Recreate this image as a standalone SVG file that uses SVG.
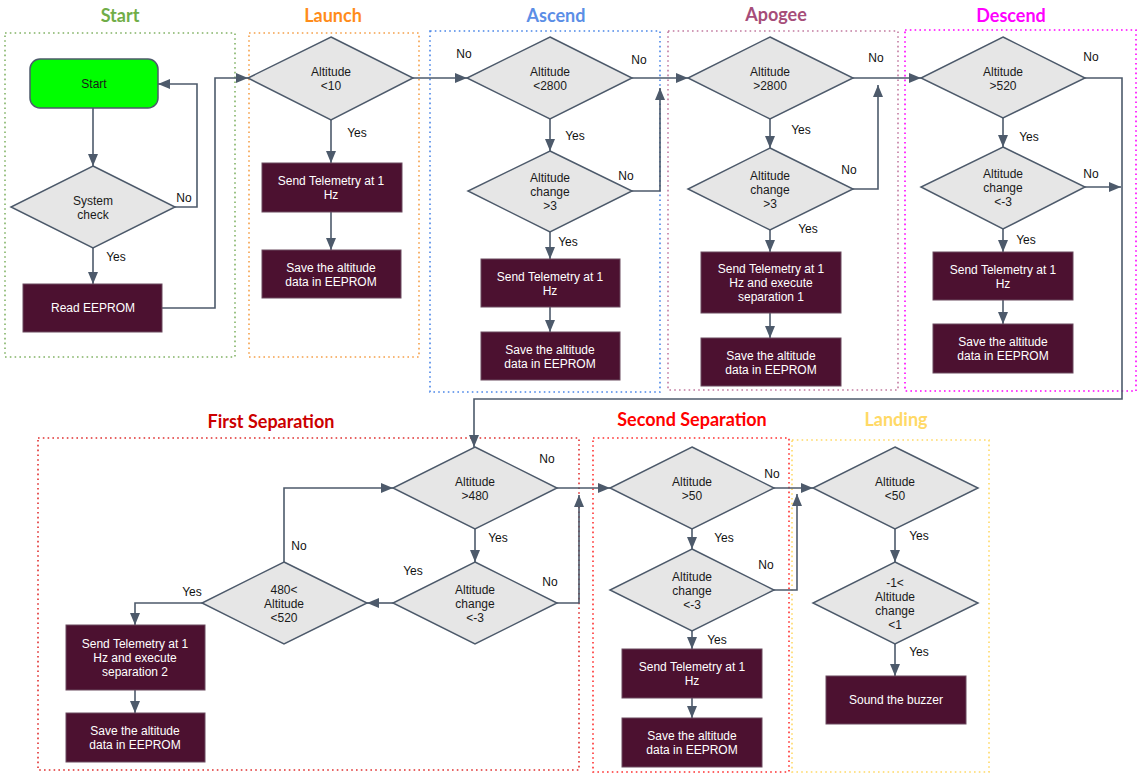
<svg xmlns="http://www.w3.org/2000/svg" width="1147" height="774" viewBox="0 0 1147 774">
<style>
.bg{fill:#ffffff}
.grp{fill:none;stroke-width:1.6;stroke-dasharray:1.6 3.2}
.title{font-family:Lato,"Liberation Sans",sans-serif;font-weight:bold;font-size:18px;text-anchor:middle}
.dia{fill:#e6e6e6;stroke:#4d5a6b;stroke-width:1.5}
.proc{fill:#4c1130;stroke:#6b4a5e;stroke-width:1}
.t{font-family:"Liberation Sans",Arial,sans-serif;font-size:12px;fill:#1a1a1a;text-anchor:middle}
.w{font-family:"Liberation Sans",Arial,sans-serif;font-size:12px;fill:#ffffff;text-anchor:middle}
.lbl{font-family:"Liberation Sans",Arial,sans-serif;font-size:12px;fill:#111111;text-anchor:middle}
.c{fill:none;stroke:#4d5a6b;stroke-width:1.6;marker-end:url(#arr)}
</style>
<defs>
<marker id="arr" markerWidth="12" markerHeight="10" refX="12" refY="5" orient="auto" markerUnits="userSpaceOnUse"><path d="M0,0 L12,5 L0,10 z" fill="#4d5a6b"/></marker>
</defs>
<rect class="bg" x="0" y="0" width="1147" height="774"/>

<g id="frames">
<rect class="grp" x="5" y="33" width="230" height="324" stroke="#82b366"/>
<rect class="grp" x="249" y="33" width="170" height="324" stroke="#f5a04a"/>
<rect class="grp" x="430" y="31" width="230" height="361" stroke="#4a86e8"/>
<rect class="grp" x="668" y="31" width="230" height="359" stroke="#c27ba0"/>
<rect class="grp" x="905" y="30" width="231" height="361" stroke="#ff00ff"/>
<rect class="grp" x="38" y="438" width="541" height="332" stroke="#e03030"/>
<rect class="grp" x="593" y="438" width="196" height="334" stroke="#ff3030"/>
<rect class="grp" x="792" y="440" width="197" height="332" stroke="#ffd966"/>
</g>
<g id="titles">
<text class="title" x="120" y="22" fill="#70ad47">Start</text>
<text class="title" x="333" y="22" fill="#ff8c1a">Launch</text>
<text class="title" x="556" y="22" fill="#5b8ee6">Ascend</text>
<text class="title" x="776" y="21" fill="#a64d79">Apogee</text>
<text class="title" x="1011" y="22" fill="#ff00ff">Descend</text>
<text class="title" x="271" y="428" fill="#cc0000">First Separation</text>
<text class="title" x="692" y="426" fill="#ff0000">Second Separation</text>
<text class="title" x="896" y="426" fill="#ffd966">Landing</text>
</g>

<g id="connectors">
<path class="c" d="M93,108 V166"/>
<path class="c" d="M175,207 H197 V84 H158"/>
<path class="c" d="M93,248 V284"/>
<path class="c" d="M162,308 H215 V78 H248"/>
<path class="c" d="M331,120 V163"/>
<path class="c" d="M331,212 V250"/>
<path class="c" d="M413,78 H467"/>
<path class="c" d="M550,119 V151"/>
<path class="c" d="M632,191 H660 V88"/>
<path class="c" d="M632,78 H688"/>
<path class="c" d="M550,232 V259"/>
<path class="c" d="M550,307 V332"/>
<path class="c" d="M770,119 V148"/>
<path class="c" d="M853,189 H878 V85"/>
<path class="c" d="M853,78 H921"/>
<path class="c" d="M770,230 V252"/>
<path class="c" d="M770,313 V338"/>
<path class="c" d="M1003,118 V147"/>
<path class="c" d="M1085,78 H1122 V399 H474 V447"/>
<path class="c" d="M1085,187 H1121"/>
<path class="c" d="M1003,229 V252"/>
<path class="c" d="M1003,300 V324"/>
<path class="c" d="M475,529 V562"/>
<path class="c" d="M557,603 H579 V495"/>
<path class="c" d="M393,603 H367"/>
<path class="c" d="M284,562 V488 H393"/>
<path class="c" d="M202,603 H135 V625"/>
<path class="c" d="M135,690 V713"/>
<path class="c" d="M557,488 H610"/>
<path class="c" d="M692,529 V549"/>
<path class="c" d="M774,590 H797 V494"/>
<path class="c" d="M774,488 H813"/>
<path class="c" d="M692,631 V649"/>
<path class="c" d="M692,698 V718"/>
<path class="c" d="M895,529 V562"/>
<path class="c" d="M895,644 V676"/>
</g>
<g id="connector-labels">
<text class="lbl" x="184" y="202">No</text>
<text class="lbl" x="116" y="261">Yes</text>
<text class="lbl" x="357" y="137">Yes</text>
<text class="lbl" x="464" y="58">No</text>
<text class="lbl" x="639" y="64">No</text>
<text class="lbl" x="575" y="140">Yes</text>
<text class="lbl" x="626" y="180">No</text>
<text class="lbl" x="568" y="246">Yes</text>
<text class="lbl" x="876" y="62">No</text>
<text class="lbl" x="801" y="134">Yes</text>
<text class="lbl" x="849" y="174">No</text>
<text class="lbl" x="808" y="233">Yes</text>
<text class="lbl" x="1091" y="61">No</text>
<text class="lbl" x="1029" y="141">Yes</text>
<text class="lbl" x="1091" y="178">No</text>
<text class="lbl" x="1026" y="244">Yes</text>
<text class="lbl" x="547" y="463">No</text>
<text class="lbl" x="498" y="542">Yes</text>
<text class="lbl" x="413" y="575">Yes</text>
<text class="lbl" x="550" y="586">No</text>
<text class="lbl" x="299" y="550">No</text>
<text class="lbl" x="192" y="596">Yes</text>
<text class="lbl" x="772" y="478">No</text>
<text class="lbl" x="724" y="542">Yes</text>
<text class="lbl" x="766" y="569">No</text>
<text class="lbl" x="717" y="644">Yes</text>
<text class="lbl" x="919" y="540">Yes</text>
<text class="lbl" x="919" y="656">Yes</text>
</g>

<g id="start">
<rect x="30" y="59" width="128" height="49" rx="10" fill="#00ff00" stroke="#4d5a6b" stroke-width="1.5"/>
<text class="t" x="94" y="88">Start</text>
</g>
<g id="system-check">
<polygon class="dia" points="93,166 175,207 93,248 11,207"/>
<text class="t" x="93" y="205">System</text>
<text class="t" x="93" y="219">check</text>
</g>
<g id="read-eeprom">
<rect class="proc" x="23" y="284" width="139" height="48"/>
<text class="w" x="93" y="312">Read EEPROM</text>
</g>

<g id="launch-alt">
<polygon class="dia" points="331,37 413,78 331,120 248,78"/>
<text class="t" x="331" y="76">Altitude</text>
<text class="t" x="331" y="90">&lt;10</text>
</g>
<g id="launch-send">
<rect class="proc" x="262" y="163" width="140" height="49"/>
<text class="w" x="331" y="185">Send Telemetry at 1</text>
<text class="w" x="331" y="199">Hz</text>
</g>
<g id="launch-save">
<rect class="proc" x="262" y="250" width="139" height="48"/>
<text class="w" x="331" y="272">Save the altitude</text>
<text class="w" x="331" y="286">data in EEPROM</text>
</g>

<g id="ascend-alt">
<polygon class="dia" points="550,37 632,78 550,119 467,78"/>
<text class="t" x="550" y="76">Altitude</text>
<text class="t" x="550" y="90">&lt;2800</text>
</g>
<g id="ascend-change">
<polygon class="dia" points="550,151 632,191 550,232 468,191"/>
<text class="t" x="550" y="182">Altitude</text>
<text class="t" x="550" y="196">change</text>
<text class="t" x="550" y="210">&gt;3</text>
</g>
<g id="ascend-send">
<rect class="proc" x="481" y="259" width="139" height="48"/>
<text class="w" x="550" y="281">Send Telemetry at 1</text>
<text class="w" x="550" y="295">Hz</text>
</g>
<g id="ascend-save">
<rect class="proc" x="481" y="332" width="139" height="48"/>
<text class="w" x="550" y="354">Save the altitude</text>
<text class="w" x="550" y="368">data in EEPROM</text>
</g>

<g id="apogee-alt">
<polygon class="dia" points="770,37 853,78 770,119 688,78"/>
<text class="t" x="770" y="76">Altitude</text>
<text class="t" x="770" y="90">&gt;2800</text>
</g>
<g id="apogee-change">
<polygon class="dia" points="770,148 853,189 770,230 688,189"/>
<text class="t" x="770" y="180">Altitude</text>
<text class="t" x="770" y="194">change</text>
<text class="t" x="770" y="208">&gt;3</text>
</g>
<g id="apogee-send">
<rect class="proc" x="701" y="252" width="140" height="61"/>
<text class="w" x="771" y="273">Send Telemetry at 1</text>
<text class="w" x="771" y="287">Hz and execute</text>
<text class="w" x="771" y="301">separation 1</text>
</g>
<g id="apogee-save">
<rect class="proc" x="701" y="338" width="140" height="48"/>
<text class="w" x="771" y="360">Save the altitude</text>
<text class="w" x="771" y="374">data in EEPROM</text>
</g>

<g id="descend-alt">
<polygon class="dia" points="1003,37 1085,78 1003,118 921,78"/>
<text class="t" x="1003" y="76">Altitude</text>
<text class="t" x="1003" y="90">&gt;520</text>
</g>
<g id="descend-change">
<polygon class="dia" points="1003,147 1085,187 1003,229 921,187"/>
<text class="t" x="1003" y="178">Altitude</text>
<text class="t" x="1003" y="192">change</text>
<text class="t" x="1003" y="206">&lt;-3</text>
</g>
<g id="descend-send">
<rect class="proc" x="933" y="252" width="140" height="48"/>
<text class="w" x="1003" y="274">Send Telemetry at 1</text>
<text class="w" x="1003" y="288">Hz</text>
</g>
<g id="descend-save">
<rect class="proc" x="933" y="324" width="140" height="49"/>
<text class="w" x="1003" y="346">Save the altitude</text>
<text class="w" x="1003" y="360">data in EEPROM</text>
</g>

<g id="fs-alt">
<polygon class="dia" points="475,447 557,488 475,529 393,488"/>
<text class="t" x="475" y="486">Altitude</text>
<text class="t" x="475" y="500">&gt;480</text>
</g>
<g id="fs-change">
<polygon class="dia" points="475,562 557,603 475,644 393,603"/>
<text class="t" x="475" y="594">Altitude</text>
<text class="t" x="475" y="608">change</text>
<text class="t" x="475" y="622">&lt;-3</text>
</g>
<g id="fs-range">
<polygon class="dia" points="284,562 367,603 284,644 202,603"/>
<text class="t" x="284" y="594">480&lt;</text>
<text class="t" x="284" y="608">Altitude</text>
<text class="t" x="284" y="622">&lt;520</text>
</g>
<g id="fs-send">
<rect class="proc" x="66" y="625" width="139" height="65"/>
<text class="w" x="135" y="648">Send Telemetry at 1</text>
<text class="w" x="135" y="662">Hz and execute</text>
<text class="w" x="135" y="676">separation 2</text>
</g>
<g id="fs-save">
<rect class="proc" x="66" y="713" width="139" height="49"/>
<text class="w" x="135" y="735">Save the altitude</text>
<text class="w" x="135" y="749">data in EEPROM</text>
</g>

<g id="ss-alt">
<polygon class="dia" points="692,447 774,488 692,529 610,488"/>
<text class="t" x="692" y="486">Altitude</text>
<text class="t" x="692" y="500">&gt;50</text>
</g>
<g id="ss-change">
<polygon class="dia" points="692,549 774,590 692,631 610,590"/>
<text class="t" x="692" y="581">Altitude</text>
<text class="t" x="692" y="595">change</text>
<text class="t" x="692" y="609">&lt;-3</text>
</g>
<g id="ss-send">
<rect class="proc" x="622" y="649" width="140" height="49"/>
<text class="w" x="692" y="671">Send Telemetry at 1</text>
<text class="w" x="692" y="685">Hz</text>
</g>
<g id="ss-save">
<rect class="proc" x="622" y="718" width="140" height="49"/>
<text class="w" x="692" y="740">Save the altitude</text>
<text class="w" x="692" y="754">data in EEPROM</text>
</g>

<g id="land-alt">
<polygon class="dia" points="895,447 978,488 895,529 813,488"/>
<text class="t" x="895" y="486">Altitude</text>
<text class="t" x="895" y="500">&lt;50</text>
</g>
<g id="land-change">
<polygon class="dia" points="895,562 978,603 895,644 813,603"/>
<text class="t" x="895" y="587">-1&lt;</text>
<text class="t" x="895" y="601">Altitude</text>
<text class="t" x="895" y="615">change</text>
<text class="t" x="895" y="629">&lt;1</text>
</g>
<g id="land-buzzer">
<rect class="proc" x="826" y="676" width="140" height="48"/>
<text class="w" x="896" y="704">Sound the buzzer</text>
</g>
</svg>
